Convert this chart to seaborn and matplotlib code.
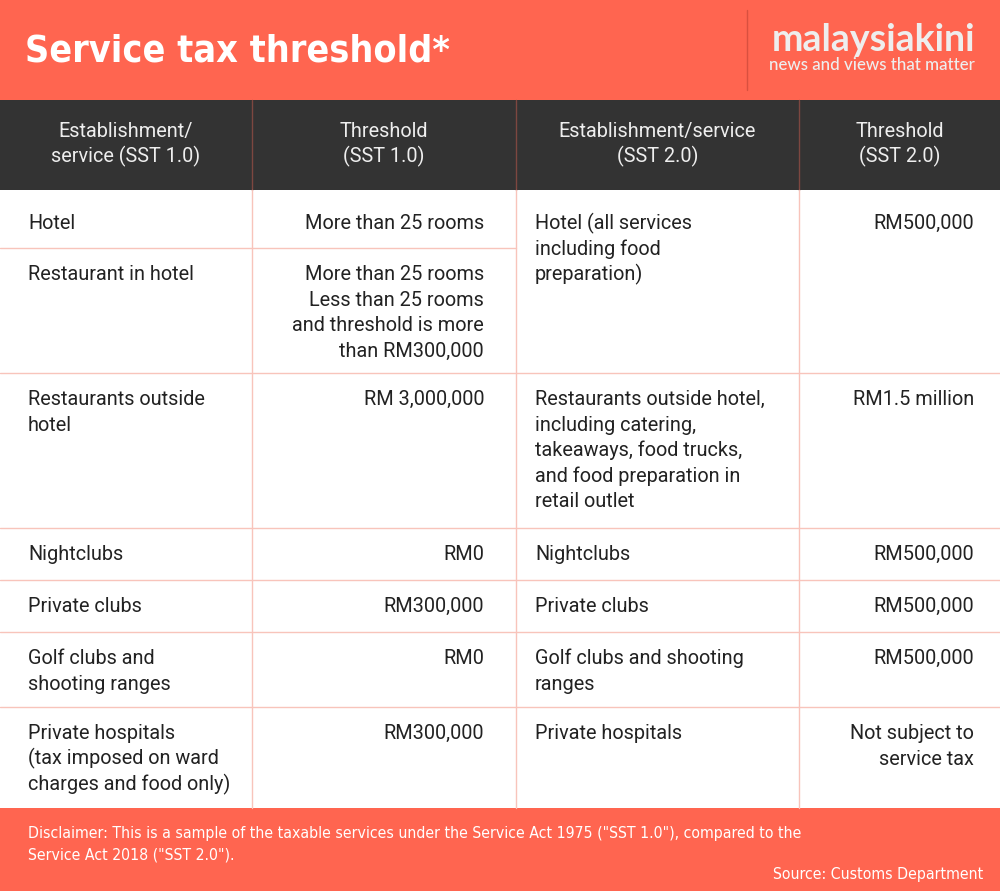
import matplotlib
matplotlib.use("Agg")
import matplotlib.pyplot as plt
import seaborn as sns

sns.set_theme(style="white")
plt.rcParams['font.family'] = ['Roboto', 'DejaVu Sans']

# ---- table contents ----
title = "Service tax threshold*"
logo_name = "malaysiakini"
logo_tag = "news and views that matter"

col_headers = ["Establishment/\nservice (SST 1.0)", "Threshold\n(SST 1.0)",
               "Establishment/service\n(SST 2.0)", "Threshold\n(SST 2.0)"]

sst1_services = ["Hotel", "Restaurant in hotel", "Restaurants outside\nhotel",
                 "Nightclubs", "Private clubs", "Golf clubs and\nshooting ranges",
                 "Private hospitals\n(tax imposed on ward\ncharges and food only)"]
sst1_thresholds = ["More than 25 rooms",
                   "More than 25 rooms\nLess than 25 rooms\nand threshold is more\nthan RM300,000",
                   "RM 3,000,000", "RM0", "RM300,000", "RM0", "RM300,000"]

sst2_services = ["Hotel (all services\nincluding food\npreparation)",
                 "Restaurants outside hotel,\nincluding catering,\ntakeaways, food trucks,\nand food preparation in\nretail outlet",
                 "Nightclubs", "Private clubs", "Golf clubs and shooting\nranges",
                 "Private hospitals"]
sst2_thresholds = ["RM500,000", "RM1.5 million", "RM500,000", "RM500,000",
                   "RM500,000", "Not subject to\nservice tax"]

disclaimer = ('Disclaimer: This is a sample of the taxable services under the Service Act 1975 ("SST 1.0"), compared to the\n'
              'Service Act 2018 ("SST 2.0").')
source = "Source: Customs Department"

# ---- layout (pixels) ----
W, H = 1000, 891
orange = "#FF6550"
dark = "#333333"
grid = "#F8C4BB"
ink = "#222222"
col_edges = [0, 252, 516, 799, 1000]
rows1 = [190, 248, 373, 528, 580, 632, 707, 808]
rows2 = [190, 373, 528, 580, 632, 707, 808]
line_h = 25.6
body_size = 14.3

fig = plt.figure(figsize=(W / 100, H / 100), dpi=100)
ax = fig.add_axes([0, 0, 1, 1])
ax.set_xlim(0, W)
ax.set_ylim(H, 0)
ax.axis('off')

# bands
ax.add_patch(plt.Rectangle((0, 0), W, 100, color=orange, lw=0))
ax.add_patch(plt.Rectangle((0, 100), W, 90, color=dark, lw=0))
ax.add_patch(plt.Rectangle((0, 808), W, H - 808, color=orange, lw=0))

# title + logo
ax.text(25, 62, title, color="white", fontsize=27, fontweight="bold",
        family=['DejaVu Sans'], stretch='condensed', va='baseline')
ax.plot([747, 747], [10, 90], color="#D9503F", lw=1)
ax.text(975, 51, logo_name, color="#EEEEEE", fontsize=27, fontweight="bold",
        family=['Lato', 'DejaVu Sans'], ha='right', va='baseline')
ax.text(975, 70, logo_tag, color="#EEEEEE", fontsize=12.2, fontweight="medium",
        family=['Lato', 'DejaVu Sans'], ha='right', va='baseline')

# grid lines
for x in col_edges[1:-1]:
    ax.plot([x, x], [100, 190], color="#7D4740", lw=1)
    ax.plot([x, x], [190, 808], color=grid, lw=1)
ax.plot([0, 516], [248, 248], color=grid, lw=1)
for y in rows2[1:-1]:
    ax.plot([0, W], [y, y], color=grid, lw=1)


def cell(txt, x, top, ha, color=ink, first=32, weight='normal'):
    for i, ln in enumerate(txt.split("\n")):
        ax.text(x, top + first + i * line_h, ln, color=color, fontsize=body_size,
                fontweight=weight, ha=ha, va='baseline')


# header
for i, h in enumerate(col_headers):
    cx = (col_edges[i] + col_edges[i + 1]) / 2
    cell(h, cx, 100, 'center', color="#EEEEEE", first=37)

# body
for i in range(len(sst1_services)):
    off = 39 if i == 0 else 32
    cell(sst1_services[i], 28, rows1[i], 'left', first=off)
    cell(sst1_thresholds[i], 484, rows1[i], 'right', first=off)
for i in range(len(sst2_services)):
    off = 39 if i == 0 else 32
    cell(sst2_services[i], 535, rows2[i], 'left', first=off)
    cell(sst2_thresholds[i], 974, rows2[i], 'right', first=off)

# footer
for i, ln in enumerate(disclaimer.split("\n")):
    ax.text(28, 838 + i * 21, ln, color="white", fontsize=11.3,
            family=['DejaVu Sans'], stretch='condensed', va='baseline')
ax.text(983, 879, source, color="white", fontsize=11.3,
        family=['DejaVu Sans'], stretch='condensed', ha='right', va='baseline')

fig.savefig("out.png", dpi=100)
